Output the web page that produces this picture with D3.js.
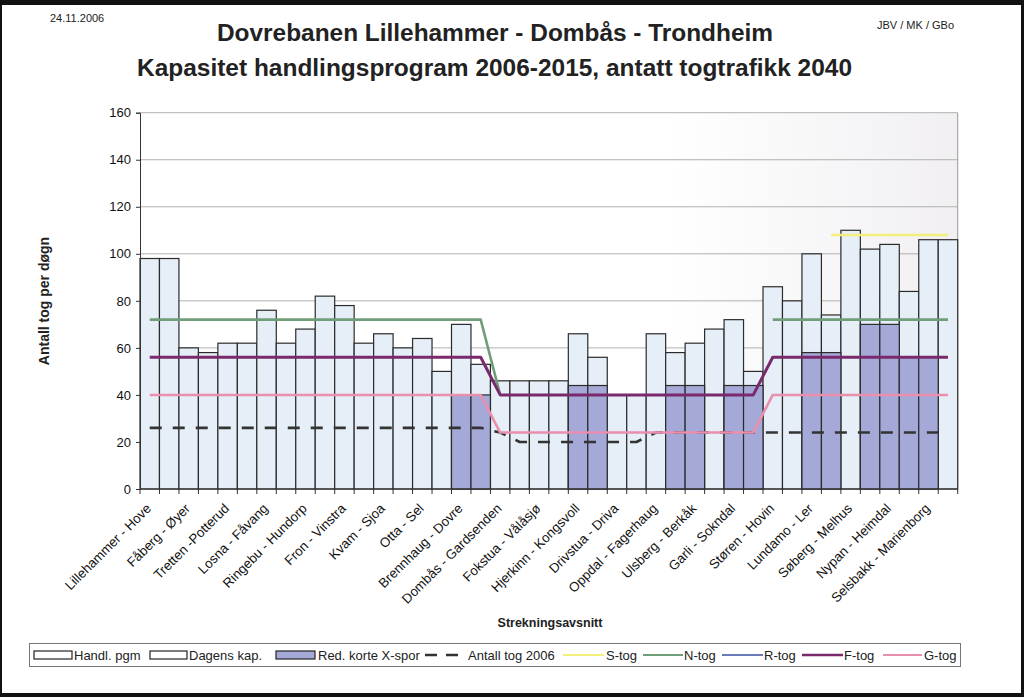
<!DOCTYPE html>
<html><head><meta charset="utf-8">
<script src="https://cdn.jsdelivr.net/npm/d3@7"></script>
<style>
body{margin:0;background:#fff;}
svg{display:block;font-family:"Liberation Sans",Arial,sans-serif;}
</style></head><body>
<svg id="c" width="1024" height="697"></svg>
<script>
// ---- data ----
const tickLabels = ["Lillehammer - Hove","","Fåberg - Øyer","","Tretten -Potterud","","Losna - Fåvang","","Ringebu - Hundorp","",
"Fron - Vinstra","","Kvam - Sjoa","","Otta - Sel","","Brennhaug - Dovre","","Dombås - Gardsenden","",
"Fokstua - Vålåsjø","","Hjerkinn - Kongsvoll","","Drivstua - Driva","","Oppdal - Fagerhaug","","Ulsberg - Berkåk","",
"Garli - Sokndal","","Støren - Hovin","","Lundamo - Ler","","Søberg - Melhus","","Nypan - Heimdal","",
"Selsbakk - Marienborg",""];
const handlPgm = [98,98,60,58,62,62,76,62,68,82,78,62,66,60,64,50,70,53,46,46,46,46,66,56,40,40,66,58,62,68,72,50,86,80,100,74,110,102,104,84,106,106];
const redKorteXspor = [0,0,0,0,0,0,0,0,0,0,0,0,0,0,0,0,40,40,0,0,0,0,44,44,0,0,0,44,44,0,44,44,0,0,58,58,0,70,70,56,56,0];
const antallTog2006 = [26,26,26,26,26,26,26,26,26,26,26,26,26,26,26,26,26,26,24,20,20,20,20,20,20,20,24,24,24,24,24,24,24,24,24,24,24,24,24,24,24,24];
const sTog = [null,null,null,null,null,null,null,null,null,null,null,null,null,null,null,null,null,null,null,null,null,null,null,null,null,null,null,null,null,null,null,null,null,null,null,108,108,108,108,108,108,108];
const nTog = [72,72,72,72,72,72,72,72,72,72,72,72,72,72,72,72,72,72,40,null,null,null,null,null,null,null,null,null,null,null,null,null,72,72,72,72,72,72,72,72,72,72];
const rTog = [];
const fTog = [56,56,56,56,56,56,56,56,56,56,56,56,56,56,56,56,56,56,40,40,40,40,40,40,40,40,40,40,40,40,40,40,56,56,56,56,56,56,56,56,56,56];
const gTog = [40,40,40,40,40,40,40,40,40,40,40,40,40,40,40,40,40,40,24,24,24,24,24,24,24,24,24,24,24,24,24,24,40,40,40,40,40,40,40,40,40,40];
const yTicks = [0,20,40,60,80,100,120,140,160];

// ---- drawing ----
const svg = d3.select("#c");
svg.append("rect").attr("width",1024).attr("height",697).attr("fill","#111");
svg.append("rect").attr("x",2).attr("y",5).attr("width",1019).attr("height",688).attr("fill","#fff");

const x = d3.scaleBand().domain(d3.range(handlPgm.length)).range([140,957.7]).padding(0);
const y = d3.scaleLinear().domain([0,160]).range([489,112.7]);
const cx = i => x(i)+x.bandwidth()/2;

const defs = svg.append("defs");
const gr = defs.append("linearGradient").attr("id","bg").attr("x1","0").attr("x2","1").attr("y1","0").attr("y2","0");
gr.append("stop").attr("offset","0.65").attr("stop-color","#ffffff");
gr.append("stop").attr("offset","1").attr("stop-color","#f1eff2");
svg.append("rect").attr("x",140).attr("y",y(160)).attr("width",817.7).attr("height",y(0)-y(160)).attr("fill","url(#bg)");

// gridlines
svg.append("g").selectAll("line").data(yTicks.filter(d=>d>0)).join("line")
  .attr("x1",140).attr("x2",957.7).attr("y1",d=>y(d)).attr("y2",d=>y(d))
  .attr("stroke","#b0b0b0").attr("stroke-width",1);
svg.append("line").attr("x1",957.7).attr("x2",957.7).attr("y1",y(160)).attr("y2",y(0)).attr("stroke","#9a9a9a");

// bars
svg.append("g").selectAll("rect").data(handlPgm.map((v,i)=>({v,i}))).join("rect")
  .attr("x",d=>x(d.i)).attr("width",x.bandwidth())
  .attr("y",d=>y(d.v)).attr("height",d=>y(0)-y(d.v))
  .attr("fill","#e6eff7").attr("stroke","#2b2b2b").attr("stroke-width",1.2);
svg.append("g").selectAll("rect").data(redKorteXspor.map((v,i)=>({v,i})).filter(d=>d.v>0)).join("rect")
  .attr("x",d=>x(d.i)).attr("width",x.bandwidth())
  .attr("y",d=>y(d.v)).attr("height",d=>y(0)-y(d.v))
  .attr("fill","#a4a9d8").attr("stroke","#2b2b2b").attr("stroke-width",1.2);

// axes
const yAxis = d3.axisLeft(y).tickValues(yTicks).tickSize(4).tickPadding(5);
const gy = svg.append("g").attr("transform","translate(140,0)").call(yAxis);
gy.select(".domain").attr("stroke","#333");
gy.selectAll(".tick line").attr("stroke","#333");
gy.selectAll("text").attr("font-size",13).attr("fill","#111").attr("font-family","Liberation Sans, Arial, sans-serif");

svg.append("line").attr("x1",140).attr("x2",957.7).attr("y1",y(0)).attr("y2",y(0)).attr("stroke","#333");
const edges = d3.range(handlPgm.length).map(i=>x(i)).concat([x.range()[1]]);
svg.append("g").selectAll("line").data(edges).join("line")
  .attr("x1",d=>d).attr("x2",d=>d)
  .attr("y1",y(0)).attr("y2",y(0)+5).attr("stroke","#333");

svg.append("g").selectAll("text").data(tickLabels.map((t,i)=>({t,i})).filter(d=>d.t!=="")).join("text")
  .attr("transform",d=>`translate(${cx(d.i)-1},${y(0)+17}) rotate(-45)`)
  .attr("text-anchor","end").attr("dy","0.35em")
  .attr("font-size",13.3).attr("fill","#111").text(d=>d.t);

// lines
const line = d3.line().defined(d=>d!=null).x((d,i)=>cx(i)).y(d=>y(d));
function drawLine(arr,color,w,dash){
  svg.append("path").datum(arr).attr("d",line).attr("fill","none")
    .attr("stroke",color).attr("stroke-width",w).attr("stroke-dasharray",dash||null)
    .attr("stroke-linejoin","round");
}
drawLine(antallTog2006,"#333",2.6,"12,11");
drawLine(sTog,"#f2f07a",2.4);
drawLine(nTog,"#6f9e78",2.6);
drawLine(rTog,"#6a7cb8",2.4);
drawLine(fTog,"#7a2a6c",3);
drawLine(gTog,"#ea8fae",2.6);

// titles
svg.append("text").attr("x",495).attr("y",41).attr("text-anchor","middle").attr("font-weight","bold")
  .attr("font-size",23).attr("fill","#222").attr("textLength",556).attr("lengthAdjust","spacingAndGlyphs")
  .text("Dovrebanen Lillehammer - Dombås - Trondheim");
svg.append("text").attr("x",494.5).attr("y",76).attr("text-anchor","middle").attr("font-weight","bold")
  .attr("font-size",23).attr("fill","#222").attr("textLength",715).attr("lengthAdjust","spacingAndGlyphs")
  .text("Kapasitet handlingsprogram 2006-2015, antatt togtrafikk 2040");
svg.append("text").attr("x",50).attr("y",22).attr("font-size",11).attr("fill","#222").text("24.11.2006");
svg.append("text").attr("x",877).attr("y",29).attr("font-size",11).attr("fill","#222").text("JBV / MK / GBo");

svg.append("text").attr("transform","translate(49,301) rotate(-90)").attr("text-anchor","middle")
  .attr("font-weight","bold").attr("font-size",14).attr("fill","#222").text("Antall tog per døgn");
svg.append("text").attr("x",550).attr("y",627).attr("text-anchor","middle")
  .attr("font-weight","bold").attr("font-size",12.5).attr("fill","#222").text("Strekningsavsnitt");

// legend
const lg = svg.append("g");
lg.append("rect").attr("x",29.5).attr("y",643.5).attr("width",931).attr("height",23).attr("fill","#fff").attr("stroke","#777");
const items = [
  {t:"Handl. pgm",type:"box",fill:"#fff",sx:34,sw:38,tx:74},
  {t:"Dagens kap.",type:"box",fill:"#fff",sx:150,sw:37,tx:189},
  {t:"Red. korte X-spor",type:"box",fill:"#a4a9d8",sx:276,sw:39,tx:318},
  {t:"Antall tog 2006",type:"line",c:"#333",dash:"12,9",sx:425,sw:41,tx:468,w:2.6},
  {t:"S-tog",type:"line",c:"#f2f07a",sx:563,sw:41,tx:606,w:2},
  {t:"N-tog",type:"line",c:"#6f9e78",sx:643,sw:40,tx:684,w:2},
  {t:"R-tog",type:"line",c:"#6a7cb8",sx:722,sw:41,tx:764,w:2},
  {t:"F-tog",type:"line",c:"#7a2a6c",sx:802,sw:41,tx:844,w:2.4},
  {t:"G-tog",type:"line",c:"#ea8fae",sx:883,sw:39,tx:924,w:2}
];
items.forEach(it=>{
  if(it.type==="box"){
    lg.append("rect").attr("x",it.sx).attr("y",651).attr("width",it.sw).attr("height",8).attr("fill",it.fill).attr("stroke","#222").attr("stroke-width",1.2);
  } else {
    lg.append("line").attr("x1",it.sx).attr("x2",it.sx+it.sw).attr("y1",655).attr("y2",655)
      .attr("stroke",it.c).attr("stroke-width",it.w).attr("stroke-dasharray",it.dash||null);
  }
  lg.append("text").attr("x",it.tx).attr("y",659.5).attr("font-size",13).attr("fill","#222").text(it.t);
});
</script>
</body></html>
